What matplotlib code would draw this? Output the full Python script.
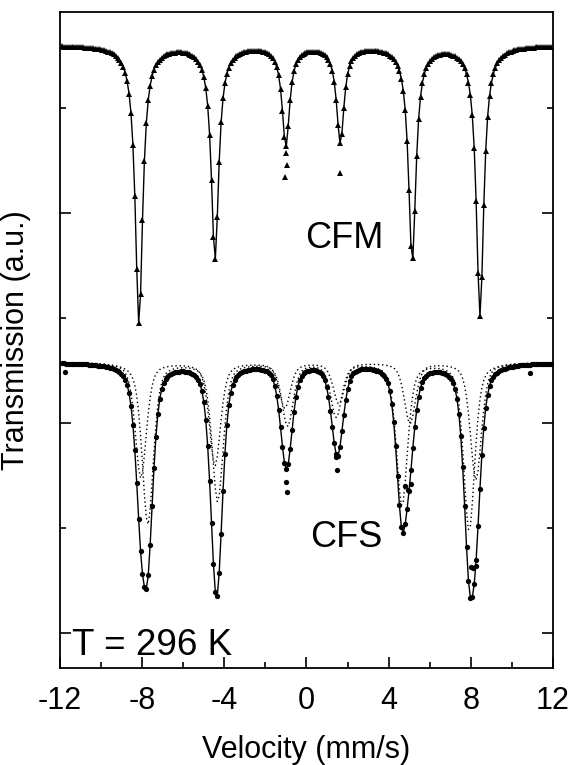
import numpy as np
import matplotlib.pyplot as plt

plt.rcParams['font.family'] = ['Liberation Sans', 'DejaVu Sans']
plt.rcParams['axes.unicode_minus'] = False

# velocity channels (mm/s)
velocity = np.linspace(-11.9, 11.9, 256)

# CFM: one sextet (baseline, line positions, depths)
cfm_base = 5.6
cfm_pos = [-8.15, -4.45, -1.00, 1.65, 5.15, 8.45]
cfm_depth = [2.65, 2.03, 0.95, 0.92, 2.05, 2.57]
cfm_fwhm = 0.44
# data points lying off the fit
cfm_out_v = [-1.00, -0.95, -1.02, 1.65]
cfm_out_t = [4.57, 4.46, 4.34, 4.38]

# CFS: two sextets
cfs_base = 2.58
cfs_pos_a = [-8.06, -4.45, -1.05, 1.58, 5.04, 8.25]
cfs_depth_a = [1.10, 0.98, 0.43, 0.39, 0.58, 1.12]
cfs_pos_b = [-7.72, -4.32, -0.92, 1.45, 4.65, 7.92]
cfs_depth_b = [1.54, 1.32, 0.60, 0.51, 1.36, 1.60]
cfs_fwhm = 0.65
cfs_lorentz_frac = 0.5
cfs_out_v = [-11.75, -0.98, -0.95, 1.42, 1.47, 4.80, 4.95, 5.10, 8.00, 8.12, 8.25, 10.9]
cfs_out_t = [2.49, 1.44, 1.34, 1.68, 1.55, 1.40, 1.36, 1.42, 0.63, 0.62, 0.64, 2.48]


def sextet(v, pos, depth, fwhm, eta=1.0):
    # pseudo-Voigt lines: eta = Lorentzian fraction
    g = (fwhm / 2) ** 2
    out = np.zeros_like(v)
    for p, d in zip(pos, depth):
        lor = g / ((v - p) ** 2 + g)
        gau = np.exp(-4 * np.log(2) * (v - p) ** 2 / fwhm ** 2)
        out += d * (eta * lor + (1 - eta) * gau)
    return out


cfm_fit = cfm_base - sextet(velocity, cfm_pos, cfm_depth, cfm_fwhm)
cfs_a = sextet(velocity, cfs_pos_a, cfs_depth_a, cfs_fwhm, cfs_lorentz_frac)
cfs_b = sextet(velocity, cfs_pos_b, cfs_depth_b, cfs_fwhm, cfs_lorentz_frac)
cfs_fit = cfs_base - cfs_a - cfs_b

fig = plt.figure(figsize=(5.76, 7.65), dpi=100)
ax = fig.add_axes([0.104, 0.127, 0.856, 0.857])

ax.plot(velocity, cfm_fit, color='k', lw=1)
ax.plot(velocity, cfm_fit, '^', ms=4, color='k', mew=0)
ax.plot(cfm_out_v, cfm_out_t, '^', ms=4, color='k', mew=0)

ax.plot(velocity, cfs_base - cfs_a, color='k', lw=1, ls=(0, (1, 2)))
ax.plot(velocity, cfs_base - cfs_b, color='k', lw=1, ls=(0, (1, 2)))
ax.plot(velocity, cfs_fit, color='k', lw=1)
ax.plot(velocity, cfs_fit, 'o', ms=3.8, color='k', mew=0)
ax.plot(cfs_out_v, cfs_out_t, 'o', ms=3.8, color='k', mew=0)

ax.text(-0.07, 3.76, 'CFM', fontsize=26, ha='left', va='center')
ax.text(0.17, 0.905, 'CFS', fontsize=26, ha='left', va='center')
ax.text(-11.42, -0.12, 'T = 296 K', fontsize=26.5, ha='left', va='center')

ax.set_xlim(-12, 12)
ax.set_ylim(-0.333, 5.914)
ax.set_xticks(range(-12, 13, 4))
ax.set_xticks(range(-10, 12, 4), minor=True)
ax.set_yticks([0, 2, 4])
ax.set_yticks([1, 3, 5], minor=True)
ax.set_yticklabels([])
ax.tick_params(which='both', direction='in', right=True, top=False, width=1.2)
ax.tick_params(which='major', length=8, labelsize=22, pad=13)
ax.tick_params(which='minor', length=4)
for s in ax.spines.values():
    s.set_linewidth(1.3)

ax.set_xlabel('Velocity (mm/s)', fontsize=22, labelpad=14)
ax.set_ylabel('Transmission (a.u.)', fontsize=22, labelpad=8)

fig.savefig('out.png', dpi=100)
